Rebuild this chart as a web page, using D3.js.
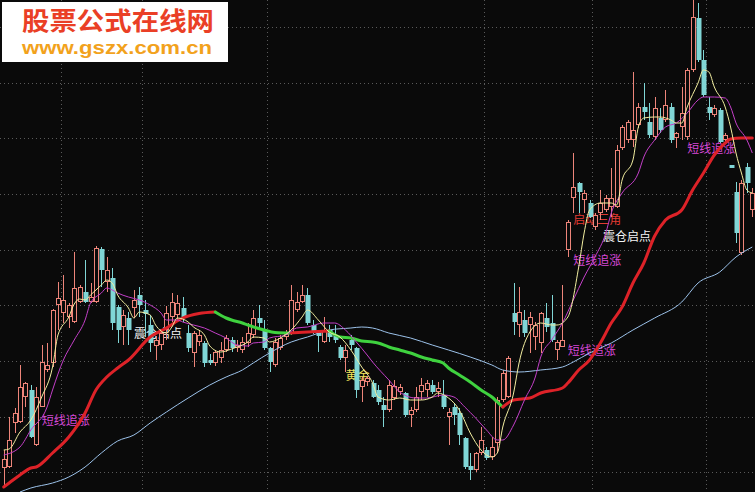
<!DOCTYPE html>
<html><head><meta charset="utf-8">
<script src="https://cdn.jsdelivr.net/npm/d3@7"></script>
<style>html,body{margin:0;padding:0;background:#0a0a0a;}svg{display:block}</style>
</head><body><svg id="c" width="755" height="492"></svg>
<script>
// ---- data (prices) ----
const openP=[5.48,5.50,6.38,6.40,6.90,7.04,5.94,6.70,7.44,7.58,8.74,8.58,8.50,8.40,8.80,9.00,8.80,8.80,9.86,9.20,
9.28,8.70,8.30,8.48,8.68,8.94,8.64,8.34,7.92,7.94,8.24,8.50,8.54,8.68,8.18,7.78,8.00,7.98,7.64,7.58,
7.68,7.84,8.04,7.88,7.84,7.98,8.14,8.48,8.24,7.88,7.54,7.88,8.10,8.18,8.64,8.80,8.94,8.34,8.18,8.00,
8.24,8.14,7.90,7.68,8.04,7.88,7.10,7.20,7.18,7.04,6.74,6.64,6.88,7.00,6.98,6.54,6.64,7.00,7.04,7.14,
7.00,6.94,6.50,6.70,6.58,6.08,5.52,5.44,5.78,5.84,5.70,5.98,6.84,6.90,8.58,8.34,8.44,8.34,8.10,7.98,
8.48,8.38,7.84,7.90,9.84,10.88,11.18,10.84,10.78,10.30,10.58,10.64,10.70,10.70,11.88,12.04,12.04,12.34,12.70,12.40,
12.10,12.48,12.44,12.70,12.08,12.30,12.10,13.44,14.48,13.64,12.70,12.54,12.64,12.04,11.54,11.00,9.78,11.50,10.64];
const closeP=[5.66,6.04,6.58,7.10,7.18,6.10,6.90,7.60,7.54,8.64,8.88,8.84,8.74,9.08,9.10,8.80,8.90,9.88,9.44,9.44,
8.38,8.24,8.54,8.24,8.84,8.74,8.56,7.98,8.04,8.18,8.58,8.80,8.78,8.48,7.88,8.18,8.14,7.58,7.58,7.80,
7.84,8.08,7.88,7.94,8.00,8.18,8.48,8.38,7.88,7.60,8.00,8.08,8.16,8.84,8.80,8.94,8.38,8.20,8.12,8.24,
8.10,8.04,7.68,7.84,7.94,7.04,7.24,7.28,6.90,6.80,6.64,7.14,7.12,7.10,6.54,6.64,6.90,7.14,7.18,7.00,
7.08,6.70,6.60,6.54,6.14,5.50,5.44,5.78,6.04,5.68,5.90,6.84,7.38,7.68,8.40,8.60,8.18,8.50,8.34,8.58,
8.30,8.04,8.00,8.04,10.40,11.10,11.00,10.98,10.50,10.54,10.78,10.88,10.88,11.84,12.30,12.40,12.24,12.70,12.60,12.14,
12.68,12.24,12.74,12.04,12.18,12.58,13.44,14.50,13.64,12.94,12.58,12.68,12.00,12.14,11.48,10.18,11.18,11.18,10.98];
const highP=[5.84,6.50,6.68,7.54,7.20,7.14,7.10,7.94,7.98,8.66,9.20,9.34,8.78,9.80,9.14,9.64,9.18,9.92,9.90,9.70,
9.48,8.74,8.64,8.60,9.04,9.10,8.84,8.54,8.12,8.24,8.72,8.98,8.94,8.90,8.34,8.22,8.24,8.02,7.76,7.84,
8.00,8.14,8.10,8.04,8.10,8.38,8.64,8.74,8.44,7.90,8.08,8.14,8.24,9.14,9.00,9.14,9.08,8.44,8.24,8.50,
8.34,8.34,7.94,7.94,8.14,7.90,7.30,7.32,7.24,7.14,6.90,7.24,7.24,7.16,7.00,6.70,7.10,7.28,7.24,7.24,
7.20,7.24,6.68,6.78,6.68,6.10,5.78,5.80,6.30,5.90,6.10,6.90,7.44,7.72,9.18,9.10,8.64,8.60,8.40,8.60,
8.78,8.94,8.04,9.14,10.44,11.78,11.20,11.04,10.84,10.58,11.04,10.94,11.48,11.94,12.34,12.44,13.40,12.78,13.18,12.78,
12.90,12.68,13.04,12.78,12.20,13.10,13.48,14.84,14.78,13.84,12.90,12.74,12.68,12.18,11.54,11.20,11.24,11.58,11.08];
const lowP=[5.10,5.48,6.18,6.38,6.70,6.08,5.92,6.70,7.40,7.50,8.24,8.38,8.28,8.38,8.78,8.78,8.78,8.78,9.10,9.00,
8.24,7.98,7.94,7.94,8.48,8.50,8.10,7.80,7.64,7.84,8.04,8.40,8.44,8.40,7.80,7.50,7.92,7.50,7.54,7.52,
7.58,7.80,7.80,7.80,7.78,7.90,8.08,8.28,7.84,7.40,7.50,7.84,8.04,8.14,8.60,8.78,8.34,8.16,7.80,7.98,
8.00,7.98,7.64,7.40,7.84,6.88,6.80,7.12,6.88,6.74,6.30,6.60,6.84,6.94,6.50,6.30,6.60,6.84,6.90,6.96,
6.90,6.66,5.94,6.34,5.94,5.46,5.24,5.40,5.74,5.64,5.64,5.78,6.80,6.88,8.14,8.10,8.10,7.78,7.84,7.78,
8.20,8.00,7.64,7.90,9.70,10.58,10.58,10.58,10.48,10.24,10.44,10.60,10.50,10.68,11.84,11.98,11.90,12.28,12.44,12.08,
12.04,12.18,12.40,11.98,11.88,12.04,12.04,13.40,13.60,12.90,12.44,12.50,11.98,12.00,11.48,9.98,9.74,10.98,10.50];

// moving-average style lines: [candle index, price]
const ma5=[[0,5.84],[1,5.86],[3,6.20],[5,6.44],[7,6.90],[9,7.50],[10,8.14],[12,8.50],[13,8.76],[14,8.86],[15,8.84],[16,8.94],
[18,9.14],[19,9.24],[20,9.18],[21,8.94],[23,8.68],[24,8.48],[25,8.60],[27,8.54],[28,8.34],[30,8.18],[31,8.30],[32,8.48],
[34,8.40],[35,8.30],[37,8.14],[38,7.92],[40,7.80],[42,7.86],[43,7.90],[45,8.00],[46,8.10],[48,8.08],[49,8.00],[51,8.08],
[53,8.24],[55,8.50],[56,8.64],[58,8.44],[60,8.20],[62,8.10],[64,7.84],[66,7.50],[68,7.18],[69,6.90],[71,6.84],[73,6.88],
[75,6.84],[77,6.84],[79,6.90],[80,6.98],[82,6.88],[84,6.64],[86,6.18],[88,5.84],[90,5.70],[91,5.78],[92,6.30],[94,6.98],
[95,7.58],[97,8.20],[99,8.38],[101,8.34],[102,8.34],[104,8.50],[106,9.50],[107,10.18],[108,10.64],[110,10.78],[112,10.78],
[113,10.74],[114,11.24],[116,11.64],[117,12.30],[118,12.48],[120,12.50],[121,12.50],[123,12.44],[124,12.38],[125,12.38],
[126,12.70],[128,13.18],[129,13.44],[130,13.40],[131,13.10],[133,12.70],[134,12.30],[135,11.78],[136,11.38],[137,11.04],[138,10.98]];
const ma10=[[0,5.74],[3,5.90],[5,6.24],[8,6.70],[9,7.04],[11,7.64],[13,8.04],[15,8.44],[16,8.78],[18,8.98],[19,9.08],[20,9.04],
[21,8.98],[23,8.90],[25,8.84],[27,8.74],[29,8.58],[30,8.44],[32,8.44],[33,8.40],[35,8.34],[37,8.28],[39,8.18],[41,8.08],
[43,7.94],[45,7.92],[46,7.98],[48,8.00],[49,8.08],[52,8.14],[54,8.28],[56,8.30],[59,8.38],[61,8.38],[63,8.24],[65,8.00],
[67,7.74],[68,7.60],[71,7.24],[73,7.00],[76,6.88],[78,6.88],[81,6.94],[83,6.90],[85,6.70],[87,6.48],[89,6.24],[91,6.04],
[92,6.04],[94,6.34],[96,6.84],[98,7.30],[99,7.70],[101,8.04],[103,8.38],[105,8.84],[107,9.30],[109,9.70],[111,10.18],
[112,10.58],[114,10.98],[117,11.38],[118,11.70],[120,12.04],[122,12.30],[124,12.38],[126,12.58],[128,12.84],[129,12.90],
[131,12.90],[133,12.88],[134,12.70],[135,12.38],[137,12.04],[138,11.78]];
const trendLine=[[0,5.10],[1,5.18],[3,5.34],[5,5.48],[6,5.50],[9,5.78],[12,6.10],[15,6.58],[17,7.04],[19,7.30],[21,7.48],
[23,7.64],[27,8.10],[30,8.28],[33,8.48],[36,8.57],[39,8.60],[41,8.48],[42,8.44],[44,8.38],[45,8.34],[48,8.24],[50,8.19],
[53,8.18],[56,8.20],[58,8.21],[60,8.22],[62,8.10],[64,8.08],[66,8.02],[68,8.00],[69,7.98],[71,7.90],[73,7.84],[75,7.78],
[77,7.70],[79,7.64],[81,7.58],[82,7.48],[84,7.34],[86,7.20],[88,7.04],[90,6.90],[91,6.80],[92,6.70],[94,6.84],[97,6.88],
[99,6.98],[103,7.08],[104,7.18],[106,7.44],[108,7.64],[110,7.98],[112,8.38],[114,8.70],[116,9.18],[118,9.58],[120,10.12],
[122,10.44],[125,10.64],[127,11.04],[129,11.38],[131,11.74],[133,11.98],[134,12.06],[136,12.08],[138,12.08]];
const longLine=[[3,5.00],[5,5.08],[9,5.18],[12,5.30],[15,5.50],[18,5.78],[21,6.02],[24,6.14],[27,6.38],[30,6.60],[34,6.88],
[38,7.14],[41,7.30],[44,7.44],[46,7.58],[49,7.78],[53,8.00],[56,8.10],[60,8.24],[64,8.28],[66,8.30],[68,8.28],[71,8.18],
[75,8.08],[79,7.94],[82,7.84],[86,7.70],[90,7.54],[92,7.44],[95,7.40],[99,7.44],[103,7.50],[105,7.60],[108,7.78],[112,7.98],
[116,8.24],[120,8.48],[125,8.80],[128,9.18],[132,9.40],[135,9.70],[138,9.90]];
const gridPrices=[14.30,13.18,12.08,10.96,9.84,8.74,7.62,6.50,5.40];
const gridIdx=[10.5,25.5,48.5,88.5,108.5,129.5];
const signalText=["短线追涨","震仓启点","黄金","启动三角","震仓启点","短线追涨","短线追涨","短线追涨"];
const signalIdx=[7,24,63,105,110.5,105,104,126];
const signalPrice=[6.34,8.08,7.24,10.36,10.02,9.54,7.74,11.78];
const signalKind=["chase","shake","gold","tri","shake","chase","chase","chase"];

// ---- drawing ----
const W=755,H=492;
const svg=d3.select("#c");
svg.append("rect").attr("width",W).attr("height",H).attr("fill","#0a0a0a");
const x=d3.scaleLinear().domain([-0.5,138.5]).range([1,755]);
const y=d3.scaleLinear().domain([5.0,14.84]).range([492,0]);

const grid=svg.append("g").attr("stroke","#5a5a5a").attr("stroke-dasharray","1,3").attr("stroke-width",1);
grid.selectAll("line.h").data(gridPrices).join("line").attr("class","h")
  .attr("x1",0).attr("x2",W).attr("y1",d=>Math.round(y(d))+0.5).attr("y2",d=>Math.round(y(d))+0.5);
grid.selectAll("line.v").data(gridIdx).join("line").attr("class","v")
  .attr("y1",0).attr("y2",H).attr("x1",d=>Math.round(x(d))+0.5).attr("x2",d=>Math.round(x(d))+0.5);

const kindColor={chase:"#d648d6",shake:"#f4f4f4",gold:"#f2e25a",tri:"#e23a32"};
svg.append("g").selectAll("text").data(signalText).join("text")
  .attr("x",(d,i)=>x(signalIdx[i])).attr("y",(d,i)=>y(signalPrice[i]))
  .attr("fill",(d,i)=>kindColor[signalKind[i]])
  .attr("font-family","'Noto Sans CJK SC','Noto Sans',sans-serif")
  .attr("font-size",12)
  .text(d=>d);

const idx=d3.range(openP.length);
const upC="#ee857a", dnC="#80d6d6";
const cg=svg.append("g");
idx.forEach(i=>{
  const cx=Math.round(x(i));
  const up=closeP[i]>=openP[i];
  const top=Math.round(y(Math.max(openP[i],closeP[i])));
  const bot=Math.round(y(Math.min(openP[i],closeP[i])));
  const hi=Math.round(y(highP[i])), lo=Math.round(y(lowP[i]));
  const col=up?upC:dnC;
  cg.append("line").attr("x1",cx+0.5).attr("x2",cx+0.5).attr("y1",hi).attr("y2",top).attr("stroke",col);
  cg.append("line").attr("x1",cx+0.5).attr("x2",cx+0.5).attr("y1",bot).attr("y2",lo).attr("stroke",col);
  const h=Math.max(1,bot-top);
  if(up){
    cg.append("rect").attr("x",cx-1.5).attr("y",top+0.5).attr("width",4).attr("height",Math.max(0,h-1))
      .attr("fill","#0a0a0a").attr("stroke",col);
  } else {
    cg.append("rect").attr("x",cx-1.5).attr("y",top).attr("width",5).attr("height",h).attr("fill",col);
  }
});

const line=d3.line().x(d=>x(d[0])).y(d=>y(d[1])).curve(d3.curveMonotoneX);
svg.append("path").attr("d",line(longLine)).attr("fill","none").attr("stroke","#9cc2ea").attr("stroke-width",1);
// thick trend line: red while rising, green while falling
const runs=[];
for(let k=0;k<trendLine.length-1;k++){
  const c=trendLine[k+1][1]>=trendLine[k][1]?"#dd2228":"#3fd23f";
  if(runs.length&&runs[runs.length-1].c===c) runs[runs.length-1].pts.push(trendLine[k+1]);
  else runs.push({c,pts:[trendLine[k],trendLine[k+1]]});
}
svg.append("g").selectAll("path").data(runs).join("path").attr("d",r=>line(r.pts))
  .attr("fill","none").attr("stroke",r=>r.c).attr("stroke-width",3).attr("stroke-linecap","round");
svg.append("path").attr("d",line(ma10)).attr("fill","none").attr("stroke","#c33fc8").attr("stroke-width",1);
svg.append("path").attr("d",line(ma5)).attr("fill","none").attr("stroke","#f2eea0").attr("stroke-width",1);

// watermark
const wm=svg.append("g");
wm.append("rect").attr("x",2).attr("y",2).attr("width",226).attr("height",60).attr("fill","#ffffff");
wm.append("text").attr("x",22).attr("y",30).attr("font-family","'Noto Sans CJK SC',sans-serif").attr("font-weight","bold")
  .attr("font-size",25).attr("fill","#ea3f26").attr("textLength",192).attr("lengthAdjust","spacingAndGlyphs").text("股票公式在线网");
wm.append("text").attr("x",22).attr("y",54).attr("font-family","'Liberation Sans',Arial,sans-serif").attr("font-weight","bold")
  .attr("font-size",19).attr("fill","#f2a21c").attr("textLength",190).attr("lengthAdjust","spacingAndGlyphs").text("www.gszx.com.cn");
</script></body></html>
